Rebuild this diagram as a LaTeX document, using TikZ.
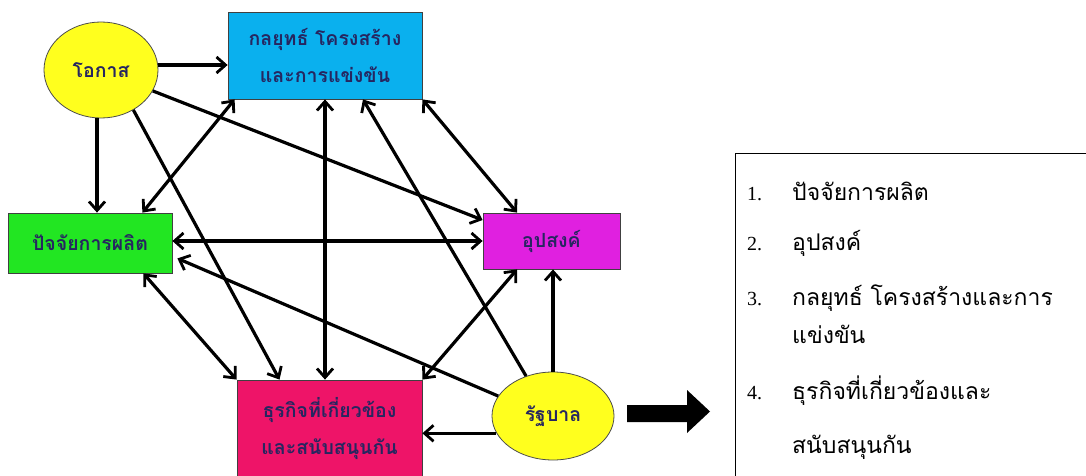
\documentclass[tikz,border=0pt]{standalone}
\usepackage{fontspec}
\setmainfont{Liberation Serif}
\newfontfamily\thai[Script=Thai]{Loma}
\usetikzlibrary{arrows.meta,calc,shapes.geometric}

\definecolor{cyanbox}{HTML}{0AB0EE}
\definecolor{greenbox}{HTML}{22E622}
\definecolor{magentabox}{HTML}{E020E0}
\definecolor{pinkbox}{HTML}{EE1468}
\definecolor{yellowoval}{HTML}{FFFF1E}
\definecolor{labelink}{HTML}{262660}

\tikzset{
  label font/.style={font=\thai\bfseries\fontsize{19.5}{37}\selectfont, text=labelink},
  factorbox/.style={draw=black!75, line width=0.8pt, inner sep=0pt, align=center, label font},
  factoroval/.style={ellipse, draw=black!70, line width=0.8pt, inner sep=0pt, align=center, label font, fill=yellowoval},
  tip/.tip={Straight Barb[length=9pt,width=16pt,line width=2.8pt]},
  link/.style={line width=3.2pt, -tip},
  twoway/.style={line width=3.2pt, tip-tip},
  listnum/.style={anchor=base west, inner sep=0pt, font=\fontsize{20}{22}\selectfont},
  listtext/.style={anchor=base west, inner sep=0pt, font=\thai\fontsize{23}{26}\selectfont},
}

\begin{document}
\begin{tikzpicture}[x=1pt,y=-1pt]
\useasboundingbox (0,0) rectangle (1086,476);
\fill[white] (0,0) rectangle (1086,476);

% the six factors of the diamond model
\node[factoroval, minimum width=114pt, minimum height=96pt] (ok) at (101,70) {โอกาส};
\node[factorbox, fill=cyanbox, minimum width=194pt, minimum height=87pt] (st) at (325,55.5) {กลยุทธ์ โครงสร้าง\\และการแข่งขัน};
\node[factorbox, fill=greenbox, minimum width=164pt, minimum height=60pt] (fa) at (90,243) {ปัจจัยการผลิต};
\node[factorbox, fill=magentabox, minimum width=137pt, minimum height=56pt] (de) at (551.5,241) {อุปสงค์};
\node[factorbox, fill=pinkbox, minimum width=185pt, minimum height=98pt] (bu) at (329.5,429) {ธุรกิจที่เกี่ยวข้อง\\และสนับสนุนกัน};
\node[factoroval, minimum width=122pt, minimum height=88pt] (gv) at (553,416) {รัฐบาล};

% influences between the factors
\draw[link] ([yshift=5pt]ok.east) -- ([yshift=5pt]ok.east -| st.west);
\draw[link] ([xshift=-4pt]ok.south) -- ([xshift=-4pt]ok.south |- fa.north);
\draw[link] (ok.-22) -- ([yshift=21pt]de.west);
\draw[link] (ok.-51) -- ([xshift=-50pt]bu.north);
\draw[twoway] ([xshift=7pt]st.south west) -- ([xshift=-30pt]fa.north east);
\draw[twoway] (st.south) -- (st.south |- bu.north);
\draw[link] (gv.124) -- ([xshift=38pt]st.south);
\draw[twoway] (st.south east) -- ([xshift=-34.5pt]de.north);
\draw[twoway] (fa.east |- de.west) -- (de.west);
\draw[twoway] ([xshift=-29pt]fa.south east) -- (bu.north west);
\draw[link] (gv.160) -- ([xshift=5pt,yshift=15pt]fa.south east);
\draw[twoway] (bu.north east) -- ([xshift=-34.5pt]de.south);
\draw[link] (gv.north) -- (gv.north |- de.south);
\draw[link] (gv.197) -- (gv.197 -| bu.east);

% block arrow pointing to the list
\fill[black] (627,405) -- (687,405) -- (687,390) -- (710,411.5) -- (687,433) -- (687,422) -- (627,422) -- cycle;

% list of factors
\node[draw=black, line width=1.3pt, minimum width=360pt, minimum height=330pt, anchor=north west, inner sep=0pt] (listbox) at (735,153) {};
\node[listnum] (n1) at (747,200) {1.};
\node[listtext] (t1) at (792,200) {ปัจจัยการผลิต};
\node[listnum] (n2) at (747,250) {2.};
\node[listtext] (t2) at (792,250) {อุปสงค์};
\node[listnum] (n3) at (747,305) {3.};
\node[listtext] (t3) at (792,305) {กลยุทธ์ โครงสร้างและการ};
\node[listtext] (t3b) at (792,343) {แข่งขัน};
\node[listnum] (n4) at (747,399) {4.};
\node[listtext] (t4) at (792,399) {ธุรกิจที่เกี่ยวข้องและ};
\node[listtext] (t4b) at (792,453) {สนับสนุนกัน};
\end{tikzpicture}
\end{document}
